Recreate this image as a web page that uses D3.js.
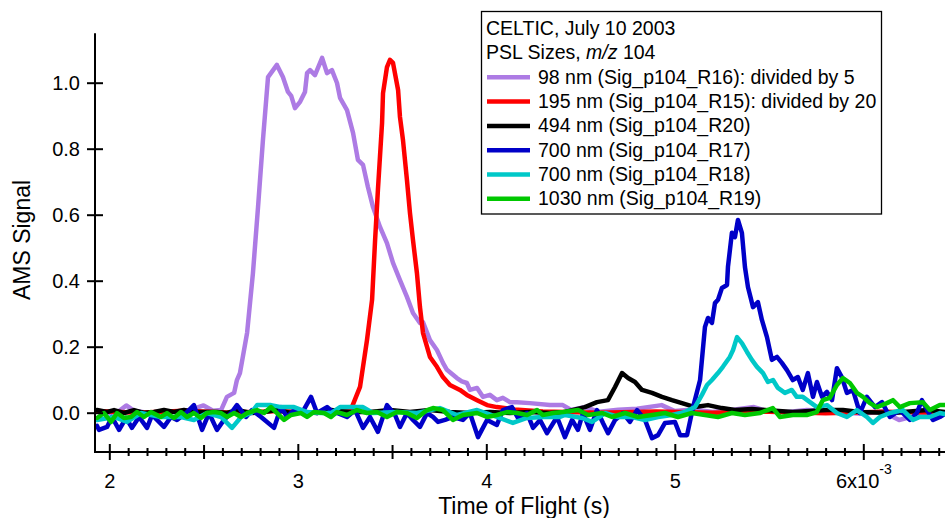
<!DOCTYPE html>
<html>
<head>
<meta charset="utf-8">
<script src="https://cdn.jsdelivr.net/npm/d3@7"></script>
<style>
  body { margin: 0; background: #fff; }
  svg text { font-family: "Liberation Sans", Arial, sans-serif; fill: #000; }
</style>
</head>
<body>
<script>
// time of flight in ms, AMS signal (already divided as the legend says)
const sig98 = [[1.93,0.005],[2.00,-0.002],[2.05,0.004],[2.09,0.022],[2.13,0.006],[2.20,0.0],[2.30,0.004],[2.40,0.002],[2.45,0.012],[2.50,0.022],[2.55,0.006],[2.593,0.008],[2.624,0.048],[2.662,0.06],[2.677,0.099],[2.693,0.120],[2.731,0.242],[2.762,0.423],[2.789,0.623],[2.815,0.826],[2.842,1.017],[2.889,1.054],[2.921,1.017],[2.948,0.972],[2.965,0.960],[2.985,0.923],[3.012,0.942],[3.038,0.972],[3.049,1.029],[3.065,1.038],[3.091,1.023],[3.129,1.075],[3.155,1.029],[3.181,1.038],[3.208,0.999],[3.224,0.954],[3.261,0.917],[3.293,0.848],[3.319,0.766],[3.346,0.751],[3.372,0.684],[3.399,0.623],[3.436,0.563],[3.473,0.514],[3.505,0.454],[3.542,0.402],[3.579,0.351],[3.611,0.302],[3.648,0.272],[3.664,0.275],[3.701,0.220],[3.738,0.190],[3.770,0.151],[3.791,0.130],[3.844,0.105],[3.870,0.095],[3.897,0.090],[3.913,0.069],[3.951,0.075],[3.982,0.048],[4.019,0.054],[4.056,0.038],[4.088,0.045],[4.125,0.032],[4.162,0.032],[4.231,0.029],[4.337,0.023],[4.406,0.023],[4.45,0.008],[4.52,0.017],[4.60,0.003],[4.70,0.009],[4.80,0.012],[4.93,0.023],[5.00,0.005],[5.10,0.010],[5.20,0.002],[5.30,0.008],[5.42,0.017],[5.50,0.003],[5.60,0.002],[5.70,0.008],[5.80,0.006],[5.90,0.000],[6.00,-0.003],[6.10,0.004],[6.19,-0.022],[6.25,-0.013],[6.35,0.000],[6.44,-0.004]];

const sig195 = [[1.93,0.005],[2.15,0.0],[2.40,0.006],[2.65,0.0],[2.90,0.005],[3.10,0.0],[3.25,0.004],[3.287,0.017],[3.330,0.078],[3.367,0.220],[3.394,0.342],[3.410,0.523],[3.425,0.675],[3.447,0.878],[3.452,0.968],[3.473,1.047],[3.489,1.069],[3.505,1.060],[3.532,0.978],[3.542,0.896],[3.558,0.826],[3.579,0.705],[3.595,0.605],[3.611,0.523],[3.632,0.423],[3.648,0.320],[3.664,0.242],[3.701,0.169],[3.738,0.139],[3.770,0.108],[3.807,0.084],[3.860,0.069],[3.897,0.054],[3.951,0.038],[4.004,0.023],[4.056,0.017],[4.15,0.010],[4.30,0.004],[4.60,0.0],[4.90,0.004],[5.20,0.0],[5.50,0.003],[5.80,-0.002],[6.10,0.003],[6.44,0.0]];

const sig494 = [[1.935,0.008],[1.988,0.002],[2.025,0.008],[2.078,-0.001],[2.131,0.008],[2.184,-0.001],[2.237,0.002],[2.290,0.008],[2.343,0.002],[2.396,0.008],[2.449,0.002],[2.502,0.002],[2.571,0.002],[2.624,-0.001],[2.677,0.008],[2.752,-0.001],[2.821,0.002],[2.890,0.008],[2.964,-0.001],[3.033,0.002],[3.102,-0.001],[3.176,0.008],[3.277,0.002],[3.383,0.002],[3.489,0.008],[3.595,0.002],[3.701,0.008],[3.807,0.002],[3.913,-0.001],[4.019,0.002],[4.125,-0.001],[4.231,0.002],[4.337,-0.001],[4.417,0.002],[4.523,0.017],[4.587,0.032],[4.645,0.038],[4.683,0.078],[4.720,0.120],[4.752,0.105],[4.789,0.093],[4.826,0.069],[4.879,0.060],[4.932,0.048],[4.985,0.038],[5.038,0.029],[5.107,0.017],[5.176,0.023],[5.250,0.014],[5.319,0.008],[5.409,0.011],[5.478,0.008],[5.626,0.002],[5.807,0.008],[5.892,0.008],[5.982,0.002],[6.157,-0.001],[6.338,0.008],[6.44,0.002]];

const sig700a = [[1.935,-0.040],[1.945,-0.052],[1.988,-0.043],[2.014,-0.013],[2.052,-0.052],[2.089,-0.016],[2.120,-0.046],[2.158,-0.013],[2.200,-0.046],[2.227,-0.007],[2.290,-0.043],[2.327,-0.013],[2.359,-0.022],[2.407,-0.001],[2.449,0.023],[2.492,-0.052],[2.529,-0.001],[2.571,-0.052],[2.608,-0.022],[2.646,-0.001],[2.677,0.023],[2.725,-0.013],[2.757,0.008],[2.805,-0.013],[2.874,-0.046],[2.911,0.017],[2.943,-0.013],[2.980,0.008],[3.022,-0.001],[3.070,0.048],[3.102,-0.001],[3.155,0.017],[3.192,-0.001],[3.208,-0.001],[3.261,-0.013],[3.304,0.008],[3.346,-0.046],[3.383,-0.013],[3.425,-0.058],[3.473,0.023],[3.516,-0.007],[3.542,-0.043],[3.579,-0.001],[3.611,-0.022],[3.648,-0.043],[3.686,-0.001],[3.717,-0.013],[3.744,-0.028],[3.781,-0.022],[3.823,-0.013],[3.876,-0.022],[3.913,-0.001],[3.956,-0.074],[4.004,-0.022],[4.056,-0.037],[4.088,0.008],[4.136,0.017],[4.168,-0.016],[4.216,-0.001],[4.248,-0.046],[4.285,-0.022],[4.322,-0.062],[4.375,-0.013],[4.417,-0.074],[4.455,-0.022],[4.486,-0.052],[4.513,-0.001],[4.550,-0.052],[4.587,0.008],[4.619,-0.031],[4.646,-0.062],[4.683,-0.022],[4.725,-0.001],[4.762,-0.028],[4.800,0.008],[4.842,-0.022],[4.879,-0.077],[4.911,-0.068],[4.948,-0.031],[5.001,-0.028],[5.028,-0.068],[5.065,-0.068],[5.097,0.017],[5.134,0.099],[5.160,0.260],[5.176,0.287],[5.197,0.272],[5.213,0.332],[5.229,0.342],[5.250,0.378],[5.277,0.387],[5.282,0.442],[5.303,0.545],[5.319,0.532],[5.335,0.584],[5.356,0.545],[5.372,0.442],[5.388,0.381],[5.415,0.320],[5.441,0.335],[5.462,0.281],[5.489,0.229],[5.515,0.160],[5.542,0.169],[5.568,0.151],[5.595,0.129],[5.626,0.099],[5.653,0.108],[5.679,0.069],[5.706,0.120],[5.733,0.048],[5.754,0.093],[5.781,0.048],[5.807,0.063],[5.834,0.038],[5.860,0.135],[5.886,0.108],[5.913,0.060],[5.945,0.069],[5.982,-0.001],[6.019,0.048],[6.062,0.017],[6.099,0.032],[6.141,-0.013],[6.194,0.008],[6.247,-0.022],[6.284,-0.001],[6.311,0.038],[6.338,0.008],[6.370,-0.022],[6.406,-0.013],[6.44,-0.001]];

const sig700b = [[1.935,-0.022],[2.025,-0.013],[2.094,-0.028],[2.168,-0.001],[2.274,-0.013],[2.380,-0.013],[2.449,-0.022],[2.518,-0.001],[2.593,-0.013],[2.651,-0.046],[2.699,-0.013],[2.752,-0.001],[2.784,0.023],[2.858,0.023],[2.911,0.017],[2.980,0.017],[3.049,0.002],[3.123,-0.001],[3.176,-0.001],[3.224,0.017],[3.346,0.017],[3.399,-0.001],[3.526,0.002],[3.632,-0.001],[3.754,0.014],[3.844,-0.007],[3.951,0.008],[4.056,-0.013],[4.141,-0.031],[4.216,-0.016],[4.300,-0.013],[4.391,-0.013],[4.417,-0.007],[4.508,-0.016],[4.561,-0.028],[4.630,-0.001],[4.699,-0.013],[4.773,-0.013],[4.842,-0.022],[4.911,-0.013],[4.985,-0.007],[5.054,0.002],[5.107,0.017],[5.144,0.054],[5.171,0.084],[5.197,0.099],[5.229,0.120],[5.255,0.139],[5.292,0.169],[5.309,0.190],[5.330,0.229],[5.356,0.211],[5.383,0.184],[5.409,0.160],[5.436,0.139],[5.468,0.120],[5.494,0.093],[5.521,0.099],[5.547,0.075],[5.584,0.060],[5.621,0.069],[5.647,0.048],[5.679,0.048],[5.717,0.032],[5.754,0.017],[5.807,0.023],[5.860,-0.001],[5.913,-0.013],[5.966,0.008],[6.019,-0.013],[6.051,-0.031],[6.088,-0.013],[6.141,-0.001],[6.210,0.008],[6.263,-0.022],[6.300,-0.013],[6.353,-0.013],[6.406,-0.001],[6.44,-0.005]];

const sig1030 = [[1.935,-0.016],[1.972,-0.001],[2.009,-0.028],[2.041,-0.001],[2.078,-0.016],[2.115,-0.013],[2.147,0.002],[2.184,-0.013],[2.221,0.002],[2.274,-0.013],[2.306,-0.001],[2.343,-0.016],[2.380,0.002],[2.412,-0.013],[2.449,-0.001],[2.486,-0.016],[2.518,-0.001],[2.555,0.002],[2.593,-0.001],[2.624,-0.013],[2.662,-0.001],[2.699,-0.013],[2.731,-0.001],[2.784,0.008],[2.821,-0.001],[2.858,0.017],[2.890,-0.001],[2.927,-0.022],[2.964,-0.007],[3.017,-0.001],[3.049,-0.013],[3.086,0.002],[3.139,-0.001],[3.176,-0.013],[3.208,0.002],[3.261,-0.007],[3.314,0.008],[3.367,-0.001],[3.420,0.002],[3.473,-0.013],[3.526,0.002],[3.579,-0.001],[3.632,-0.016],[3.686,0.008],[3.717,0.014],[3.770,0.008],[3.823,-0.022],[3.876,-0.007],[3.951,-0.001],[4.004,-0.013],[4.056,-0.007],[4.110,0.002],[4.163,-0.001],[4.216,-0.007],[4.269,0.008],[4.300,-0.007],[4.354,-0.001],[4.407,0.002],[4.487,0.008],[4.540,-0.007],[4.614,-0.001],[4.667,-0.013],[4.736,-0.001],[4.805,-0.013],[4.879,-0.007],[4.948,-0.001],[5.017,-0.013],[5.091,-0.001],[5.160,-0.007],[5.229,-0.013],[5.303,-0.001],[5.372,-0.007],[5.451,-0.001],[5.520,0.014],[5.557,-0.013],[5.626,-0.007],[5.700,-0.007],[5.753,0.002],[5.785,0.038],[5.822,0.045],[5.860,0.084],[5.892,0.105],[5.929,0.090],[5.966,0.060],[5.998,0.048],[6.035,0.029],[6.072,0.017],[6.125,0.029],[6.157,0.038],[6.194,0.017],[6.247,0.029],[6.316,0.032],[6.353,0.008],[6.406,0.023],[6.44,0.023]];

const seriesData = [sig98, sig195, sig494, sig700a, sig700b, sig1030];
const seriesColors = ["#ad7be4", "#ff0000", "#000000", "#0000c8", "#00c8c8", "#00c800"];
const seriesLabels = [
  "98 nm (Sig_p104_R16): divided by 5",
  "195 nm (Sig_p104_R15): divided by 20",
  "494 nm (Sig_p104_R20)",
  "700 nm (Sig_p104_R17)",
  "700 nm (Sig_p104_R18)",
  "1030 nm (Sig_p104_R19)"
];

const yTicks = [0, 0.2, 0.4, 0.6, 0.8, 1.0];
const xMajorTicks = [2, 3, 4, 5, 6];          // ms
const xTickLabels = ["2", "3", "4", "5", "6x10"];

let width = 945,
  height = 518;

let plot = { left: 95, right: 945, top: 33.3, bottom: 452 };

let x = d3.scaleLinear().domain([1.9241e-3, 6.4334e-3]).range([plot.left, plot.right]);
let y = d3.scaleLinear().domain([-0.1191, 1.1497]).range([plot.bottom, plot.top]);

let svg = d3.select("body").append("svg")
  .attr("width", width)
  .attr("height", height);

svg.append("clipPath").attr("id", "clip")
  .append("rect")
  .attr("x", plot.left).attr("y", plot.top)
  .attr("width", plot.right - plot.left)
  .attr("height", plot.bottom - plot.top);

let line = d3.line()
  .x(d => x(d[0] * 1e-3))
  .y(d => y(d[1]));

// traces, drawn in legend order so green ends up on top
let traces = svg.append("g").attr("clip-path", "url(#clip)");
seriesData.forEach(function(s, i) {
  traces.append("path")
    .datum(s)
    .attr("fill", "none")
    .attr("stroke", seriesColors[i])
    .attr("stroke-width", 4.5)
    .attr("stroke-linejoin", "round")
    .attr("stroke-linecap", "round")
    .attr("d", line);
});

// y axis
let yAxis = svg.append("g")
  .attr("transform", `translate(${plot.left},0)`)
  .call(d3.axisLeft(y).tickValues(yTicks).tickFormat(d3.format(".1f")).tickSize(8).tickPadding(7));
yAxis.select(".domain").remove();
yAxis.attr("font-size", 20).attr("font-family", null);
yAxis.selectAll(".tick line").attr("x1", 8).attr("stroke-width", 2);

svg.append("line")
  .attr("x1", plot.left).attr("x2", plot.left)
  .attr("y1", plot.top).attr("y2", plot.bottom + 1)
  .attr("stroke", "#000").attr("stroke-width", 2);

// x axis: minor every 0.1 ms, medium at the halves, labelled majors
let xAll = d3.range(20, 65).map(k => k / 10);
let xMinor = xAll.filter(v => Math.abs(v * 2 - Math.round(v * 2)) > 1e-6);
let xMid = xAll.filter(v => Math.abs(v * 2 - Math.round(v * 2)) < 1e-6 && Math.abs(v - Math.round(v)) > 1e-6);

function tickRow(vals, size) {
  let g = svg.append("g")
    .attr("transform", `translate(0,${plot.bottom})`)
    .call(d3.axisBottom(x).tickValues(vals.map(v => v * 1e-3)).tickSize(size).tickFormat(""));
  g.select(".domain").remove();
  g.selectAll(".tick line").attr("y1", -size).attr("stroke-width", 2);
  return g;
}
tickRow(xMinor, 4);
tickRow(xMid, 7);

let xAxis = svg.append("g")
  .attr("transform", `translate(0,${plot.bottom})`)
  .call(d3.axisBottom(x)
    .tickValues(xMajorTicks.map(v => v * 1e-3))
    .tickSize(8).tickPadding(13.5)
    .tickFormat((d, i) => xTickLabels[i]));
xAxis.select(".domain").remove();
xAxis.attr("font-size", 20).attr("font-family", null);
xAxis.selectAll(".tick line").attr("y1", -8).attr("stroke-width", 2);
xAxis.selectAll(".tick text").filter((d, i) => i === xMajorTicks.length - 1)
  .append("tspan")
  .attr("font-size", 14)
  .attr("dy", "-14")
  .text("-3");

svg.append("line")
  .attr("x1", plot.left - 1).attr("x2", plot.right)
  .attr("y1", plot.bottom).attr("y2", plot.bottom)
  .attr("stroke", "#000").attr("stroke-width", 2);

// axis titles
svg.append("text")
  .attr("x", 524).attr("y", 514)
  .attr("text-anchor", "middle")
  .attr("font-size", 23)
  .text("Time of Flight (s)");

svg.append("text")
  .attr("transform", "translate(30,240) rotate(-90)")
  .attr("text-anchor", "middle")
  .attr("font-size", 23)
  .text("AMS Signal");

// legend
let legend = svg.append("g").attr("font-size", 19.5);
legend.append("rect")
  .attr("x", 481.5).attr("y", 11.5)
  .attr("width", 400).attr("height", 202.5)
  .attr("fill", "#fff").attr("stroke", "#000").attr("stroke-width", 1.3);

legend.append("text").attr("x", 486).attr("y", 35).text("CELTIC, July 10 2003");
let l2 = legend.append("text").attr("x", 486).attr("y", 59.3);
l2.append("tspan").text("PSL Sizes, ");
l2.append("tspan").attr("font-style", "italic").text("m/z");
l2.append("tspan").text(" 104");

seriesLabels.forEach(function(lab, i) {
  let by = 83.6 + 24.3 * i;
  legend.append("line")
    .attr("x1", 487).attr("x2", 530)
    .attr("y1", by - 6.3).attr("y2", by - 6.3)
    .attr("stroke", seriesColors[i]).attr("stroke-width", 4.5);
  legend.append("text").attr("x", 538).attr("y", by).text(lab);
});
</script>
</body>
</html>
